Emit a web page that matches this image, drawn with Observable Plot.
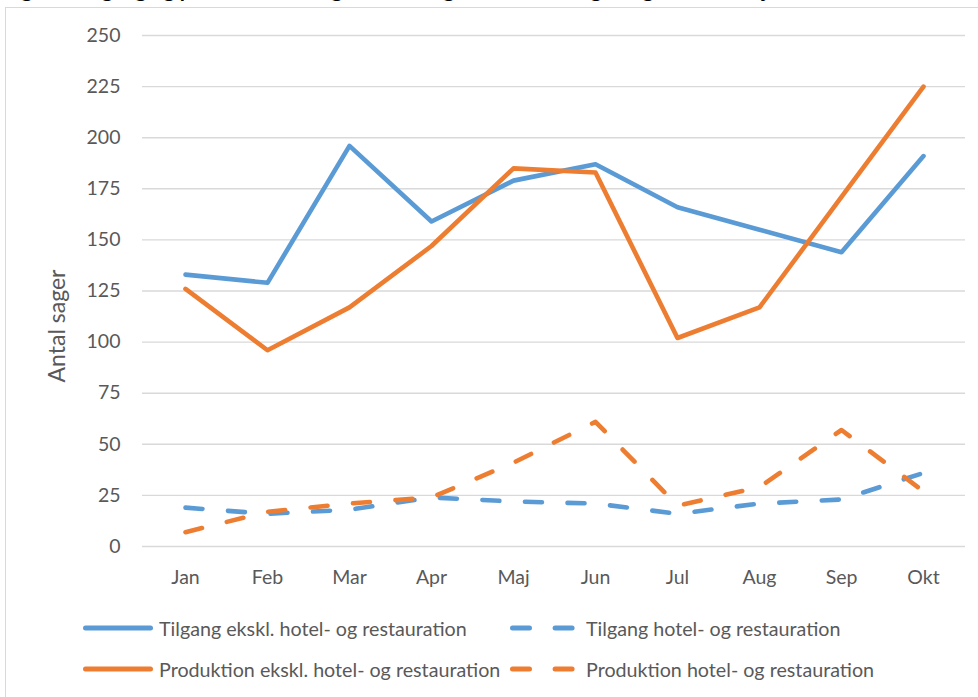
<!DOCTYPE html>
<html>
<head>
<meta charset="utf-8">
<script src="https://cdn.jsdelivr.net/npm/d3@7"></script>
<script src="https://cdn.jsdelivr.net/npm/@observablehq/plot@0.6"></script>
<style>
  html, body { margin: 0; padding: 0; background: #fff; width: 978px; height: 697px; overflow: hidden; }
  body { position: relative; font-family: Lato, "Noto Sans", sans-serif; }
  #frame { position: absolute; left: 5px; top: 7px; width: 1010px; height: 730px; border: 1px solid #d9d9d9; box-sizing: border-box; }
  #title { position: absolute; left: 4px; top: -22px; font-size: 21px; line-height: 21px; font-weight: bold; color: #000; white-space: nowrap; }
  #chart { position: absolute; left: 0; top: 0; }
  .leg { position: absolute; display: flex; align-items: center; font-size: 19.7px; color: #595959; white-space: nowrap; }
  .leg svg { margin-right: 4px; }
</style>
</head>
<body>
<div id="frame"></div>
<div id="title">Figur 1: Tilgang og produktion af sager, hotel- og restauration og øvrige brancher, januar-oktober 2020</div>
<div id="chart"></div>
<div id="legend"></div>
<script>
const months = ["Jan","Feb","Mar","Apr","Maj","Jun","Jul","Aug","Sep","Okt"];
const tilgangEkskl = [133,129,196,159,179,187,166,155,144,191];
const tilgangHotel = [19,16,18,24,22,21,16,21,23,36];
const produktionEkskl = [126,96,117,147,185,183,102,117,171,225];
const produktionHotel = [7,17,21,24,41,61,20,29,57,27];
const yTicks = [0,25,50,75,100,125,150,175,200,225,250];

const seriesNames = [
  "Tilgang ekskl. hotel- og restauration",
  "Tilgang hotel- og restauration",
  "Produktion ekskl. hotel- og restauration",
  "Produktion hotel- og restauration"
];
const seriesValues = [tilgangEkskl, tilgangHotel, produktionEkskl, produktionHotel];
const colors = ["#5B9BD5", "#5B9BD5", "#ED7D31", "#ED7D31"];
const dashed = [false, true, false, true];
const DASH = "17,25.6";

const rows = (i) => months.map((m, j) => ({month: m, value: seriesValues[i][j]}));

const lines = seriesNames.map((name, i) =>
  Plot.line(rows(i), {
    x: "month", y: "value",
    stroke: colors[i], strokeWidth: 4.6,
    strokeLinecap: "round", strokeLinejoin: "round",
    strokeDasharray: dashed[i] ? DASH : null
  })
);

const plot = Plot.plot({
  width: 978,
  height: 600,
  marginLeft: 142,
  marginRight: 13,
  marginTop: 35,
  marginBottom: 54,
  style: {fontFamily: "Lato, 'Noto Sans', sans-serif", background: "transparent", color: "#595959"},
  x: {type: "point", domain: months, padding: 0.5},
  y: {domain: [0, 250]},
  marks: [
    Plot.ruleY(yTicks, {stroke: "#d9d9d9", strokeWidth: 1.4}),
    Plot.axisY({ticks: yTicks, tickSize: 0, tickPadding: 22, fontSize: 19.5, fill: "#595959", label: null}),
    Plot.axisX({tickSize: 0, tickPadding: 24, fontSize: 19.5, fill: "#595959", label: null}),
    Plot.text(["Antal sager"], {frameAnchor: "left", dx: -85, dy: 35, text: d => d, rotate: -90, fontSize: 23, fill: "#595959", lineAnchor: "middle", textAnchor: "middle"}),
    ...lines
  ]
});
document.getElementById("chart").appendChild(plot);

// Legend
const legendPos = [[83, 628], [510, 628], [83, 669], [510, 669]];
const legend = document.getElementById("legend");
seriesNames.forEach((name, i) => {
  const div = document.createElement("div");
  div.className = "leg";
  div.style.left = legendPos[i][0] + "px";
  div.style.top = (legendPos[i][1] - 13) + "px";
  div.style.height = "26px";
  const ns = "http://www.w3.org/2000/svg";
  const svg = document.createElementNS(ns, "svg");
  svg.setAttribute("width", 72);
  svg.setAttribute("height", 10);
  const ln = document.createElementNS(ns, "line");
  ln.setAttribute("x1", 2.5); ln.setAttribute("x2", 67.5);
  ln.setAttribute("y1", 5); ln.setAttribute("y2", 5);
  ln.setAttribute("stroke", colors[i]);
  ln.setAttribute("stroke-width", 5);
  ln.setAttribute("stroke-linecap", "round");
  if (dashed[i]) ln.setAttribute("stroke-dasharray", DASH);
  svg.appendChild(ln);
  div.appendChild(svg);
  const span = document.createElement("span");
  span.textContent = name;
  div.appendChild(span);
  legend.appendChild(div);
});
</script>
</body>
</html>
